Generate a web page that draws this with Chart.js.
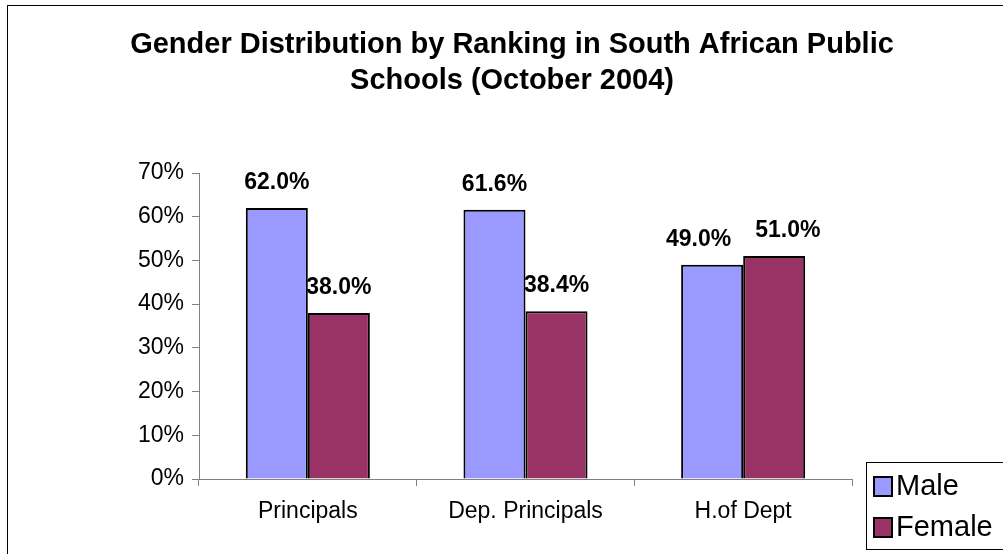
<!DOCTYPE html>
<html>
<head>
<meta charset="utf-8">
<script src="https://cdn.jsdelivr.net/npm/chart.js@4/dist/chart.umd.min.js"></script>
<style>
  html, body { margin: 0; padding: 0; background: #fff; overflow: hidden; }
  canvas { display: block; }
</style>
</head>
<body>
<canvas id="chart" width="1003" height="554" style="width:1003px;height:554px"></canvas>
<script>
// Chart data
const categories = ['Principals', 'Dep. Principals', 'H.of Dept'];
const maleValues = [62.0, 61.6, 49.0];
const femaleValues = [38.0, 38.4, 51.0];
const yTicks = [0, 10, 20, 30, 40, 50, 60, 70];
const titleLines = ['Gender Distribution by Ranking in South African Public', 'Schools (October 2004)'];

const FONT = 'Arial, "Liberation Sans", sans-serif';

// Title, frame, value labels and legend
const decorations = {
    id: 'decorations',
    beforeDraw(chart) {
        const ctx = chart.ctx;
        ctx.save();
        ctx.fillStyle = '#fff';
        ctx.fillRect(0, 0, chart.width, chart.height);
        ctx.strokeStyle = '#000';
        ctx.lineWidth = 1;
        ctx.strokeRect(7.5, 5.5, 1200, 700);
        ctx.restore();
    },
    afterDraw(chart) {
        const ctx = chart.ctx;
        ctx.save();

        // title
        ctx.fillStyle = '#000';
        ctx.font = 'bold 29px ' + FONT;
        ctx.textAlign = 'center';
        ctx.textBaseline = 'middle';
        titleLines.forEach((line, i) => ctx.fillText(line, 512, 45 + i * 36));

        // value labels (push apart when two labels of a category collide)
        ctx.font = 'bold 23px ' + FONT;
        ctx.textBaseline = 'alphabetic';
        const male = chart.getDatasetMeta(0).data;
        const female = chart.getDatasetMeta(1).data;
        categories.forEach((c, i) => {
            const a = { text: maleValues[i].toFixed(1) + '%', x: male[i].x, y: male[i].y - 19 };
            const b = { text: femaleValues[i].toFixed(1) + '%', x: female[i].x, y: female[i].y - 19 };
            const wa = ctx.measureText(a.text).width;
            const wb = ctx.measureText(b.text).width;
            if (Math.abs(a.y - b.y) < 25) {
                const gap = (b.x - wb / 2) - (a.x + wa / 2);
                if (gap < 24) {
                    const shift = (24 - gap) / 2;
                    a.x -= shift;
                    b.x += shift;
                }
            }
            [a, b].forEach(l => ctx.fillText(l.text, l.x, l.y));
        });

        // legend
        ctx.strokeStyle = '#000';
        ctx.lineWidth = 1;
        ctx.strokeRect(866.5, 462.5, 200, 87);
        ctx.font = '29px ' + FONT;
        ctx.textAlign = 'left';
        ctx.textBaseline = 'middle';
        chart.data.datasets.forEach((ds, di) => {
            const y = 477 + di * 41;
            ctx.fillStyle = ds.backgroundColor;
            ctx.fillRect(874, y, 18, 19);
            ctx.lineWidth = 2;
            ctx.strokeRect(874, y, 18, 19);
            ctx.fillStyle = '#000';
            ctx.fillText(ds.label, 896, y + 10);
        });
        ctx.restore();
    }
};

new Chart(document.getElementById('chart'), {
    type: 'bar',
    data: {
        labels: categories,
        datasets: [
            {
                label: 'Male',
                data: maleValues,
                backgroundColor: '#9999FF',
                borderColor: '#000',
                borderWidth: 2,
                borderSkipped: 'bottom'
            },
            {
                label: 'Female',
                data: femaleValues,
                backgroundColor: '#993366',
                borderColor: '#000',
                borderWidth: 2,
                borderSkipped: 'bottom'
            }
        ]
    },
    options: {
        responsive: false,
        animation: false,
        devicePixelRatio: 1,
        categoryPercentage: 0.57,
        barPercentage: 1,
        layout: { padding: { top: 173, right: 151, left: 0, bottom: 0 } },
        plugins: {
            legend: { display: false },
            title: { display: false },
            tooltip: { enabled: false }
        },
        scales: {
            x: {
                grid: { display: true, drawOnChartArea: false, offset: true, tickLength: 7, color: '#808080' },
                border: { color: '#808080', width: 1 },
                ticks: { color: '#000', font: { family: FONT, size: 23 }, padding: 12, maxRotation: 0 },
                afterFit(scale) { scale.height = 75; }
            },
            y: {
                min: 0,
                max: 70,
                afterBuildTicks(scale) { scale.ticks = yTicks.map(v => ({ value: v })); },
                grid: { display: true, drawOnChartArea: false, tickLength: 7, color: '#808080' },
                border: { color: '#808080', width: 1 },
                ticks: {
                    color: '#000',
                    font: { family: FONT, size: 23 },
                    padding: 8,
                    callback: v => v + '%'
                },
                afterFit(scale) { scale.width = 199; }
            }
        }
    },
    plugins: [decorations]
});
</script>
</body>
</html>
